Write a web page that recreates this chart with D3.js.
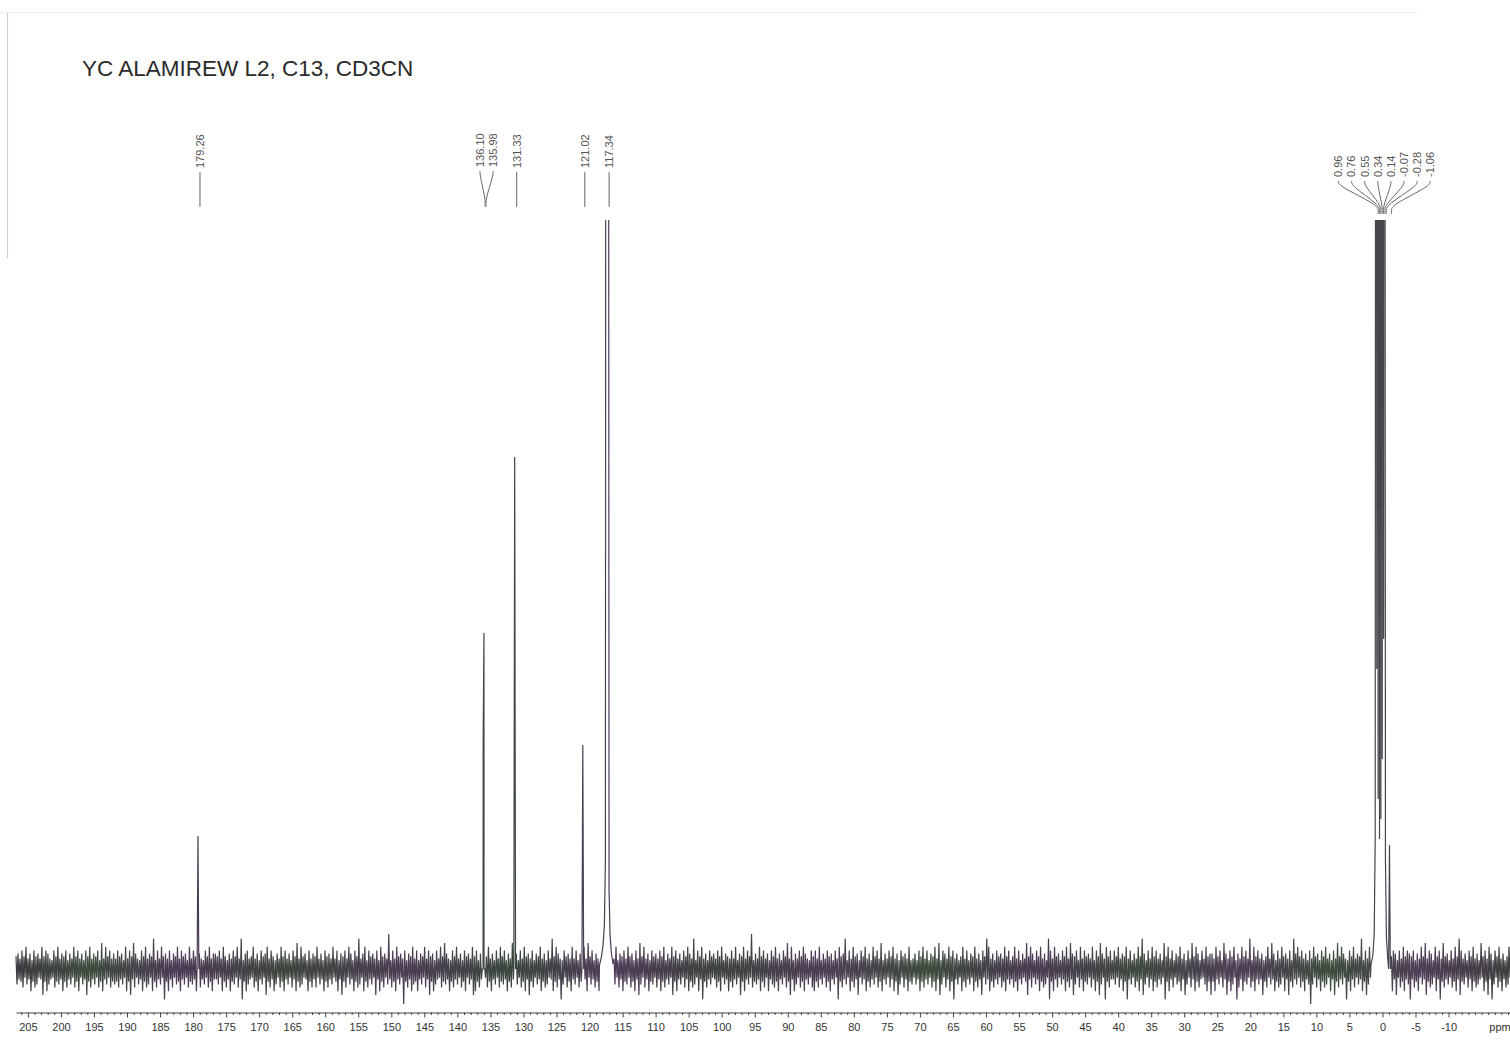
<!DOCTYPE html>
<html>
<head>
<meta charset="utf-8">
<script src="https://cdn.jsdelivr.net/npm/d3@7"></script>
<style>
  html, body { margin: 0; padding: 0; background: #fff; }
  svg { display: block; }
</style>
</head>
<body>
<svg id="chart" width="1510" height="1045"></svg>
<script>
// ---- 13C spectrum, CD3CN ----
const titleText = "YC ALAMIREW L2, C13, CD3CN";

// picked peaks (ppm) and their heights above the baseline (intensity units)
const peakPpm       = [179.26, 136.10, 135.98, 131.33, 121.02, 117.34, 0.96, 0.76, 0.55, 0.34, 0.14, -0.07, -0.28, -1.06];
const peakIntensity = [133,    227,    336,    512,    224,    4000,   2200, 2600, 3000, 3200, 3000, 2600,  2200,  124];

// solvent (CD3CN) line shapes: broad feet of the nitrile carbon and of the CD3 septet
const nitrileFeet = [[118.5, 4], [118.2, 12], [117.95, 24], [117.75, 45], [117.6, 110],
                     [117.05, 80], [116.9, 35], [116.7, 16], [116.45, 5]];
const methylFeet  = [[1.75, 4], [1.45, 14], [1.25, 35], [1.1, 130],
                     [-0.45, 110], [-0.6, 32], [-0.8, 10]];
const methylValleys = [[0.86, 300], [0.655, 170], [0.445, 130], [0.24, 150], [0.035, 210], [-0.175, 330]];
// regions where the solvent lines replace the baseline noise
const solventRegions = [[116.45, 118.5], [-0.85, 1.75]];

// axis
const axisDomain = [206.8, -19.3];
const majorTicks = [205, 200, 195, 190, 185, 180, 175, 170, 165, 160, 155, 150, 145, 140, 135, 130,
                    125, 120, 115, 110, 105, 100, 95, 90, 85, 80, 75, 70, 65, 60, 55, 50, 45, 40,
                    35, 30, 25, 20, 15, 10, 5, 0, -5, -10];
const axisUnit = "ppm";

// baseline noise: positive and negative excursions, digit = relative size
const noiseUp =
  "34253624153426354215362435142635241536243517263524" +
  "25341625374215362438152634251436253416253742153624" +
  "43526314253628145236241534625314263524153726341524" +
  "36241534262514352641538246153425163429152634251436" +
  "25143625341526374215362415342635142536241526351427" +
  "34152634251436241528364215342625143627351426153425" +
  "26143526341527362415342536142635241536428153624153" +
  "42536143252614362539142635241536241537261425364215" +
  "35261425341526348152634153624163527142536241534261" +
  "24153625143627154263524136251436241538624153426351" +
  "36251427364153624185263415362743516253426153742635" +
  "15362436251426384152635241736251436241527364152634" +
  "42635174253614263528163524136274152634251846352415" +
  "26341536241527364215362438152634251437263541526354" +
  "35142637254163527341526385241536241735264153624136";
const noiseDown =
  "42351426354127364215342635241536142735241536241534" +
  "35241637251426354163524183625143624153426352415362" +
  "24163526341528364215362417352641536241526354126352" +
  "51426352413627351426354163524172635142536241935264" +
  "36241527364215342635241536142763524153624153426352" +
  "24153627351426354126352841536241537261425362413526" +
  "41526341536274152634152635241736241526354162835241" +
  "25361426352417362415342635162453624153726415362415" +
  "63524153624183524163527142635241536241526374152634" +
  "14263524153627415263824163524163527142635241536242" +
  "53624137251426354183625142635274152634152637418352" +
  "24152638241536274152635241836251436274152635214637" +
  "36241527364185263415362427351426354162735241536249" +
  "41526354162735241836251426374152634251436271536248" +
  "25361427354162835241536273415263542163728415362541";

// ---- layout ----
const svg = d3.select("#chart");
const W = 1510, H = 1045;
const x = d3.scaleLinear().domain(axisDomain).range([16, 1510]);
const y = d3.scaleLinear().domain([0, 750]).range([969, 219]);
const noiseAmp = d3.scalePow().exponent(1.6).domain([0, 9]).range([8, 35]);

// scanned-sheet edge
svg.append("line").attr("x1", 7.5).attr("x2", 7.5).attr("y1", 12).attr("y2", 258)
  .attr("stroke", "#cfcfcf").attr("stroke-width", 1.2);
svg.append("line").attr("x1", 0).attr("x2", 1420).attr("y1", 12.5).attr("y2", 12.5)
  .attr("stroke", "#f0f0f0").attr("stroke-width", 1);

// title
svg.append("text")
  .attr("x", 82).attr("y", 76)
  .attr("font-family", "'Liberation Sans', Arial, sans-serif")
  .attr("font-size", 22.5)
  .attr("fill", "#2a2a2a")
  .text(titleText);

// ---- spectrum trace ----
const inRegion = p => solventRegions.some(([a, b]) => p >= a && p <= b);
const hw = 0.13;
const pts = [];
const nSamples = Math.min(noiseUp.length, noiseDown.length);
const sampleIdx = d3.scaleLinear().domain([0, 2 * nSamples - 1]).range(axisDomain);
const isolated = peakPpm.filter(p => !inRegion(p));
for (let k = 0; k < 2 * nSamples; k++) {
  const p = sampleIdx(k);
  if (inRegion(p)) continue;
  if (isolated.some(q => Math.abs(q - p) < hw + 0.04)) continue;
  const i = k >> 1;
  const v = (k % 2 === 0) ? noiseAmp(+noiseUp[i]) : -noiseAmp(+noiseDown[i]);
  pts.push([p, v]);
}
peakPpm.forEach((p, i) => {
  if (inRegion(p)) {
    pts.push([p, peakIntensity[i]]);
  } else {
    pts.push([p + hw, 0], [p, peakIntensity[i]], [p - hw, 0]);
  }
});
nitrileFeet.forEach(d => pts.push(d));
methylFeet.forEach(d => pts.push(d));
methylValleys.forEach(d => pts.push(d));
pts.sort((a, b) => b[0] - a[0]);

const defs = svg.append("defs");
defs.append("clipPath").attr("id", "plotClip")
  .append("rect").attr("x", 0).attr("y", 220).attr("width", W).attr("height", H - 220);

const grad = defs.append("linearGradient").attr("id", "traceInk")
  .attr("gradientUnits", "userSpaceOnUse")
  .attr("x1", 16).attr("x2", 1510).attr("y1", 0).attr("y2", 0);
[["0%", "#2c2a30"], ["5%", "#2f3d2f"], ["11%", "#3d2a47"], ["18%", "#2e362d"],
 ["26%", "#3c2d45"], ["33%", "#2b382e"], ["40%", "#3f2b49"], ["47%", "#2e332e"],
 ["54%", "#3e2d47"], ["61%", "#2d3c2c"], ["68%", "#3b2b44"], ["75%", "#2f3a2f"],
 ["82%", "#3e2d47"], ["88%", "#2d3e2d"], ["94%", "#3f2d48"], ["100%", "#2e2e2e"]]
  .forEach(([o, c]) => grad.append("stop").attr("offset", o).attr("stop-color", c));

const line = d3.line().x(d => x(d[0])).y(d => y(d[1]));
svg.append("path")
  .attr("clip-path", "url(#plotClip)")
  .attr("d", line(pts))
  .attr("fill", "none")
  .attr("stroke", "url(#traceInk)")
  .attr("stroke-width", 1.2)
  .attr("stroke-linejoin", "miter")
  .attr("opacity", 0.92);

// ---- peak labels ----
const labels = peakPpm.map((p, i) => ({ ppm: p, px: x(p), text: p.toFixed(2) }))
  .sort((a, b) => a.px - b.px);
const spacing = 13.1;
const groups = [];
labels.forEach(l => {
  const g = groups[groups.length - 1];
  if (g && l.px - g[g.length - 1].px < spacing) g.push(l); else groups.push([l]);
});
const labelG = svg.append("g");
const leader = d3.line().curve(d3.curveBasis);
groups.forEach(g => {
  const big = g.length > 2;
  const center = d3.mean(g, d => d.px) + (g.length > 1 ? 3 : 2);
  const textBottom = big ? 177 : (g.length > 1 ? 167 : 168);
  const yEnd = big ? 214 : 207;
  g.forEach((l, j) => {
    const lx = center + (j - (g.length - 1) / 2) * spacing;
    const bx = l.px + 2;
    labelG.append("text")
      .attr("transform", `translate(${lx},${textBottom}) rotate(-90)`)
      .attr("dy", "0.35em")
      .attr("font-family", "'Liberation Sans', Arial, sans-serif")
      .attr("font-size", 11)
      .attr("fill", "#555")
      .text(l.text);
    const y0 = textBottom + 4;
    const pathPts = g.length === 1
      ? [[lx, y0], [bx, yEnd]]
      : [[lx, y0], [lx, y0 + 5], [bx, yEnd - 9], [bx, yEnd - 3], [bx, yEnd]];
    labelG.append("path")
      .attr("d", g.length === 1 ? d3.line()(pathPts) : leader(pathPts))
      .attr("fill", "none")
      .attr("stroke", "#666")
      .attr("stroke-width", 1);
  });
});

// ---- ppm axis ----
const axisY = 1012.5;
const minorTicks = d3.range(Math.floor(axisDomain[0]), Math.ceil(axisDomain[1]) - 1, -1)
  .filter(v => majorTicks.indexOf(v) < 0);
const axisG = svg.append("g").attr("transform", `translate(0,${axisY})`);
axisG.call(d3.axisBottom(x).tickValues(minorTicks).tickSize(2.5).tickSizeOuter(0).tickFormat(""));
axisG.call(g => g.select(".domain").remove());
const majorG = svg.append("g").attr("transform", `translate(0,${axisY})`);
majorG.call(d3.axisBottom(x).tickValues(majorTicks).tickSize(5).tickSizeOuter(0).tickPadding(5.5)
  .tickFormat(d => String(d)));
svg.selectAll(".tick line").attr("stroke", "#444");
majorG.select(".domain").attr("stroke", "#444");
majorG.selectAll("text")
  .attr("font-family", "'Liberation Sans', Arial, sans-serif")
  .attr("font-size", 11)
  .attr("fill", "#333");
svg.append("text")
  .attr("x", 1500).attr("y", 1031)
  .attr("text-anchor", "middle")
  .attr("font-family", "'Liberation Sans', Arial, sans-serif")
  .attr("font-size", 11)
  .attr("fill", "#333")
  .text(axisUnit);
</script>
</body>
</html>
